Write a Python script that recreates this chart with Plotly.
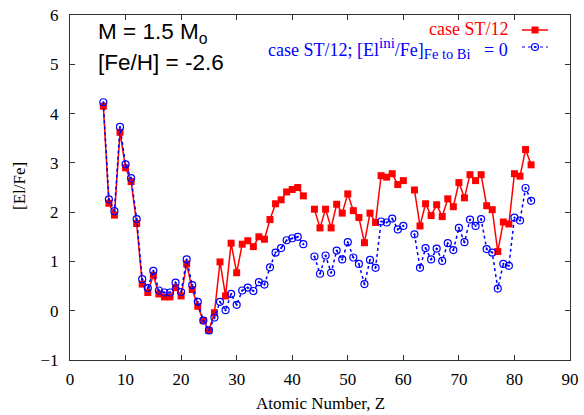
import plotly.graph_objects as go

# Atomic numbers (Tc=43 and Pm=61 absent)
Z = list(range(6, 84))

red_vals = [4.15, 2.18, 1.94, 3.62, 2.90, 2.62, 1.77, 0.54, 0.37, 0.72,
            0.34, 0.28, 0.28, 0.47, 0.30, 0.95, 0.43, 0.09, -0.20, -0.40,
            -0.04, 0.99, 0.30, 1.37, 0.77, 1.35, 1.42, 1.30, 1.50, 1.45,
            1.85, 2.17, 2.25, 2.41, 2.46, 2.50, 2.33, None, 2.06, 1.68,
            2.06, 1.68, 2.16, 1.98, 2.37, 2.03, 1.89, 1.38, 1.98, 1.79,
            2.74, 2.71, 2.78, 2.56, 2.64, None, 2.45, 1.72, 2.17, 1.93,
            2.15, 1.91, 2.27, 2.11, 2.60, 2.29, 2.76, 2.64, 2.76, 2.13,
            2.05, 1.20, 1.80, 1.76, 2.78, 2.73, 3.27, 2.96]

blue_vals = [4.23, 2.26, 2.02, 3.73, 2.97, 2.69, 1.86, 0.64, 0.46, 0.81,
             0.41, 0.37, 0.37, 0.57, 0.38, 1.04, 0.52, 0.18, -0.20, -0.40,
             -0.14, 0.18, 0.01, 0.34, 0.12, 0.41, 0.47, 0.40, 0.58, 0.53,
             0.88, 1.18, 1.27, 1.43, 1.47, 1.50, 1.35, None, 1.10, 0.75,
             1.12, 0.77, 1.22, 1.04, 1.39, 1.08, 0.95, 0.54, 1.03, 0.87,
             1.81, 1.79, 1.87, 1.65, 1.72, None, 1.55, 0.87, 1.27, 1.04,
             1.26, 1.01, 1.37, 1.23, 1.68, 1.39, 1.85, 1.72, 1.86, 1.25,
             1.18, 0.45, 0.95, 0.91, 1.89, 1.83, 2.49, 2.23]

x_ticks = [0, 10, 20, 30, 40, 50, 60, 70, 80, 90]
y_ticks = [-1, 0, 1, 2, 3, 4, 5, 6]

red_name = "case ST/12"
blue_name = ("case ST/12; [El<sup><span style=\"font-size:15px\">ini</span></sup>/Fe]"
             "<sub><span style=\"font-size:14.5px\">Fe to Bi</span></sub>   = 0")

RED = "#ff0000"
BLUE = "#0000ff"
SERIF = "Liberation Serif"
SANS = "Liberation Sans"

fig = go.Figure()

red_marker = dict(symbol="square", size=7, color=RED)
red_line = dict(color=RED, width=1.5)
blue_marker = dict(symbol="circle-open-dot", size=7, color=BLUE, line=dict(width=1.2, color=BLUE))
blue_line = dict(color=BLUE, width=1.5, dash="dot")

fig.add_trace(go.Scatter(x=Z, y=red_vals, mode="lines+markers", name=red_name,
                         line=red_line, marker=red_marker, connectgaps=False,
                         showlegend=False))
fig.add_trace(go.Scatter(x=Z, y=blue_vals, mode="lines+markers", name="case ST/12; [El^ini/Fe] = 0",
                         line=blue_line, marker=blue_marker, connectgaps=False,
                         showlegend=False))

W, H = 584, 415
ml, mr, mt, mb = 70, 14, 15, 55
pw, ph = W - ml - mr, H - mt - mb


def px2x(px):
    return (px - ml) / pw


def py2y(py):
    return (H - mb - py) / ph


# legend samples on an invisible overlay axis (0..1 in both directions)
fig.add_trace(go.Scatter(x=[px2x(522), px2x(535), px2x(548)], y=[py2y(30)] * 3,
                         mode="lines", line=red_line, xaxis="x2", yaxis="y2",
                         showlegend=False, hoverinfo="skip"))
fig.add_trace(go.Scatter(x=[px2x(535)], y=[py2y(30)], mode="markers",
                         marker=red_marker, xaxis="x2", yaxis="y2",
                         showlegend=False, hoverinfo="skip"))
fig.add_trace(go.Scatter(x=[px2x(522), px2x(548)], y=[py2y(47)] * 2,
                         mode="lines", line=dict(color=BLUE, width=1.2, dash="dot"),
                         xaxis="x2", yaxis="y2", showlegend=False, hoverinfo="skip"))
fig.add_trace(go.Scatter(x=[px2x(535)], y=[py2y(47)], mode="markers",
                         marker=blue_marker, xaxis="x2", yaxis="y2",
                         showlegend=False, hoverinfo="skip"))

annotations = [
    dict(text=red_name, x=px2x(510), y=py2y(29), xref="paper", yref="paper",
         xanchor="right", yanchor="middle", showarrow=False,
         font=dict(family=SERIF, size=18, color=RED)),
    dict(text=blue_name, x=px2x(510), y=py2y(48), xref="paper", yref="paper",
         xanchor="right", yanchor="middle", showarrow=False,
         font=dict(family=SERIF, size=18, color=BLUE)),
    dict(text="M = 1.5 M<sub>o</sub>", x=px2x(96), y=py2y(33), xref="paper", yref="paper",
         xanchor="left", yanchor="middle", showarrow=False,
         font=dict(family=SANS, size=22.5, color="black")),
    dict(text="[Fe/H] = -2.6", x=px2x(96), y=py2y(62), xref="paper", yref="paper",
         xanchor="left", yanchor="middle", showarrow=False,
         font=dict(family=SANS, size=22.5, color="black")),
    dict(text="Atomic Number, Z", x=px2x(320), y=py2y(403), xref="paper", yref="paper",
         xanchor="center", yanchor="middle", showarrow=False,
         font=dict(family=SERIF, size=17, color="black")),
    dict(text="[El/Fe]", x=px2x(19), y=py2y(186), xref="paper", yref="paper",
         xanchor="center", yanchor="middle", showarrow=False, textangle=-90,
         font=dict(family=SERIF, size=17, color="black")),
]

axis_common = dict(showline=True, linecolor="#333333", linewidth=1.2, mirror="ticks",
                   ticks="inside", ticklen=5, tickcolor="#333333", tickwidth=1,
                   showgrid=False, zeroline=False, automargin=False,
                   tickfont=dict(family=SERIF, size=17, color="black"))

fig.update_layout(
    width=W, height=H,
    margin=dict(l=ml, r=mr, t=mt, b=mb, autoexpand=False),
    paper_bgcolor="white", plot_bgcolor="white",
    xaxis=dict(range=[0, 90], tickvals=x_ticks, ticklabelstandoff=3, **axis_common),
    yaxis=dict(range=[-1, 6], tickvals=y_ticks, ticklabelstandoff=7, **axis_common),
    xaxis2=dict(range=[0, 1], overlaying="x", visible=False, fixedrange=True),
    yaxis2=dict(range=[0, 1], overlaying="y", visible=False, fixedrange=True),
    annotations=annotations,
    showlegend=False,
)

fig.write_html("out.html")
